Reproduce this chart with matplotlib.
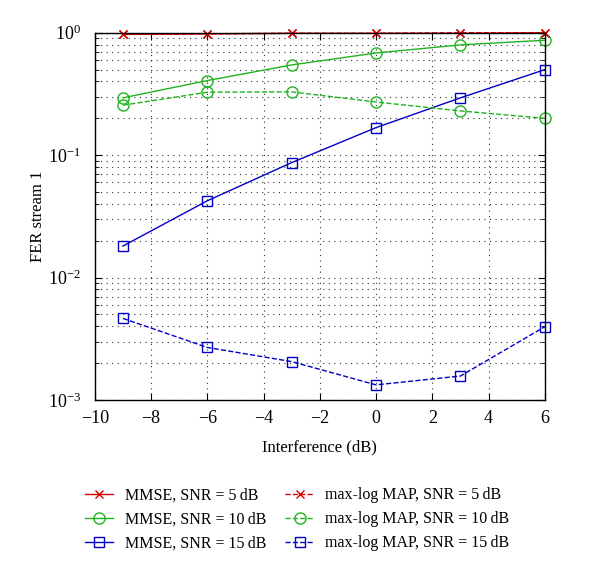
#!/usr/bin/env python3
import numpy as np
import matplotlib
matplotlib.use('Agg')
import matplotlib.pyplot as plt
from matplotlib.ticker import LogLocator, NullFormatter

plt.rcParams['font.family'] = ['Liberation Serif', 'DejaVu Serif']
plt.rcParams['mathtext.fontset'] = 'custom'
plt.rcParams['mathtext.rm'] = 'Liberation Serif'
plt.rcParams['mathtext.it'] = 'Liberation Serif:italic'

interference = [-9, -6, -3, 0, 3, 6]

mmse_5 = [0.97, 0.98, 0.99, 0.99, 0.99, 1.0]
mmse_10 = [0.294, 0.407, 0.546, 0.684, 0.796, 0.869]
mmse_15 = [0.0181, 0.0424, 0.087, 0.168, 0.294, 0.50]
map_5 = [0.97, 0.98, 0.99, 0.99, 1.0, 1.0]
map_10 = [0.256, 0.327, 0.329, 0.272, 0.230, 0.200]
map_15 = [0.00464, 0.00269, 0.00206, 0.00133, 0.00157, 0.00397]

RED = '#d80000'
GREEN = '#1fb41f'
BLUE = '#0000c8'

fig = plt.figure(figsize=(6.0, 5.65), dpi=100)
ax = fig.add_axes([0.158, 0.292, 0.75, 0.65])

style = dict(linewidth=1.0, markerfacecolor='none', markeredgewidth=1.0, clip_on=False)
ax.plot(interference, mmse_5, '-', color=RED, marker='x', markersize=6,
        label='MMSE, SNR = 5\u2009dB', **style)
ax.plot(interference, mmse_10, '-', color=GREEN, marker='o', markersize=8,
        label='MMSE, SNR = 10\u2009dB', **style)
ax.plot(interference, mmse_15, '-', color=BLUE, marker='s', markersize=7,
        label='MMSE, SNR = 15\u2009dB', **style)
ax.plot(interference, map_5, '--', color=RED, marker='x', markersize=6,
        label='max-log MAP, SNR = 5\u2009dB', **style)
ax.plot(interference, map_10, '--', color=GREEN, marker='o', markersize=8,
        label='max-log MAP, SNR = 10\u2009dB', **style)
ax.plot(interference, map_15, '--', color=BLUE, marker='s', markersize=7,
        label='max-log MAP, SNR = 15\u2009dB', **style)

ax.set_yscale('log')
ax.set_xlim(-10, 6)
ax.set_ylim(1e-3, 1)
ax.set_xticks(range(-10, 7, 2))
ax.yaxis.set_major_locator(LogLocator(base=10, numticks=10))
ax.yaxis.set_minor_locator(LogLocator(base=10, subs=np.arange(2, 10), numticks=20))
ax.yaxis.set_minor_formatter(NullFormatter())

ax.grid(True, which='major', linestyle=(0, (1, 4)), color='#333333', linewidth=0.8)
ax.grid(True, which='minor', axis='y', linestyle=(0, (1, 4)), color='#333333', linewidth=0.8)

ax.tick_params(which='both', direction='in', top=True, right=True, labelsize=13)
ax.tick_params(axis='x', which='major', pad=7)
ax.tick_params(axis='y', which='major', pad=10)
ax.tick_params(which='major', length=5)
ax.tick_params(which='minor', length=3)
for s in ax.spines.values():
    s.set_linewidth(1.0)

ax.set_xlabel('Interference (dB)', fontsize=12, labelpad=9)
ax.set_ylabel('FER stream 1', fontsize=12, labelpad=1)

fig.legend(loc='upper center', bbox_to_anchor=(0.495, 0.163), ncol=2, frameon=False,
           fontsize=11.5, handlelength=1.8, columnspacing=1.2, labelspacing=0.5,
           handletextpad=0.7)

fig.savefig('out.png', dpi=100)
